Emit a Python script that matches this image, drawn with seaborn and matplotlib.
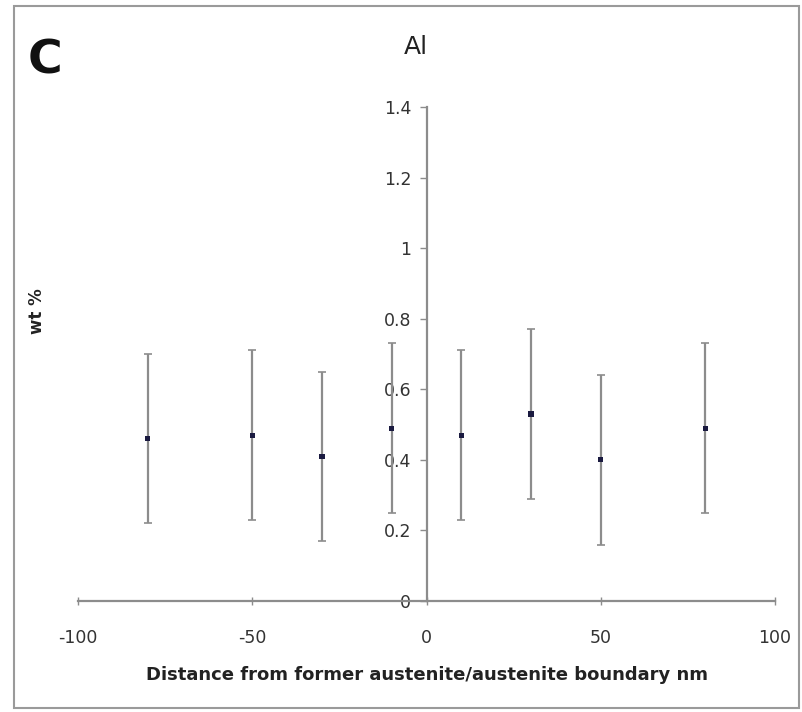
import matplotlib
matplotlib.use("Agg")
import matplotlib.pyplot as plt
import matplotlib.patches as mpatches
import seaborn as sns
import pandas as pd

# distance from boundary (nm), mean wt % and error (±)
distance = [-80, -50, -30, -10, 10, 30, 50, 80]
wt_pct = [0.46, 0.47, 0.41, 0.49, 0.47, 0.53, 0.40, 0.49]
err = [0.24, 0.24, 0.24, 0.24, 0.24, 0.24, 0.24, 0.24]

x_ticks = [-100, -50, 0, 50, 100]
y_ticks = [0, 0.2, 0.4, 0.6, 0.8, 1.0, 1.2, 1.4]
y_tick_labels = ["0", "0.2", "0.4", "0.6", "0.8", "1", "1.2", "1.4"]

sns.set_theme(style="white")
plt.rcParams["font.family"] = ["DejaVu Sans"]
plt.rcParams["axes.unicode_minus"] = False

df = pd.DataFrame({"distance": distance, "wt": wt_pct, "err": err})

fig = plt.figure(figsize=(8.02, 7.12), dpi=100)
ax = fig.add_axes([78 / 802, 1 - 601 / 712, (775 - 78) / 802, (601 - 107) / 712])

# frame around the whole panel
fig.patches.append(mpatches.Rectangle((14 / 802, 4 / 712), 785 / 802, 702 / 712,
                                      transform=fig.transFigure, fill=False,
                                      edgecolor="#9a9a9a", linewidth=1.5))

ax.errorbar(df["distance"], df["wt"], yerr=df["err"], fmt="none",
            ecolor="#8c8c8c", elinewidth=1.6, capsize=3, capthick=1.2, zorder=2)
sns.scatterplot(data=df, x="distance", y="wt", ax=ax, marker="s", s=14,
                color="#1a1a40", edgecolor="none", zorder=3)

ax.set_xlim(-100, 100)
ax.set_ylim(0, 1.4)
ax.set_xticks(x_ticks)
ax.set_yticks(y_ticks)
ax.set_yticklabels(y_tick_labels)

for s in ["top", "right"]:
    ax.spines[s].set_visible(False)
ax.spines["left"].set_position(("data", 0))
ax.spines["bottom"].set_position(("data", 0))
for s in ["left", "bottom"]:
    ax.spines[s].set_color("#8c8c8c")
    ax.spines[s].set_linewidth(1.6)

ax.tick_params(axis="y", direction="out", length=5, width=1, color="#8c8c8c",
               labelsize=12.5, labelcolor="#333333", pad=6, left=True)
ax.tick_params(axis="x", direction="inout", length=6, width=1, color="#8c8c8c",
               labelsize=12.5, labelcolor="#333333", pad=17, bottom=True)

ax.set_xlabel("Distance from former austenite/austenite boundary nm",
              fontsize=13, fontweight="bold", color="#222222", labelpad=14)
ax.set_ylabel("")
fig.text(37 / 802, 1 - 311 / 712, "wt %", rotation=90, ha="center", va="center",
         fontsize=12, fontweight="bold", color="#222222")

fig.text(416 / 802, 1 - 47 / 712, "Al", ha="center", va="center",
         fontsize=18, color="#222222")
fig.text(45 / 802, 1 - 61 / 712, "C", ha="center", va="center",
         fontsize=34, fontweight="bold", color="#111111")

fig.savefig("out.png", dpi=100)
